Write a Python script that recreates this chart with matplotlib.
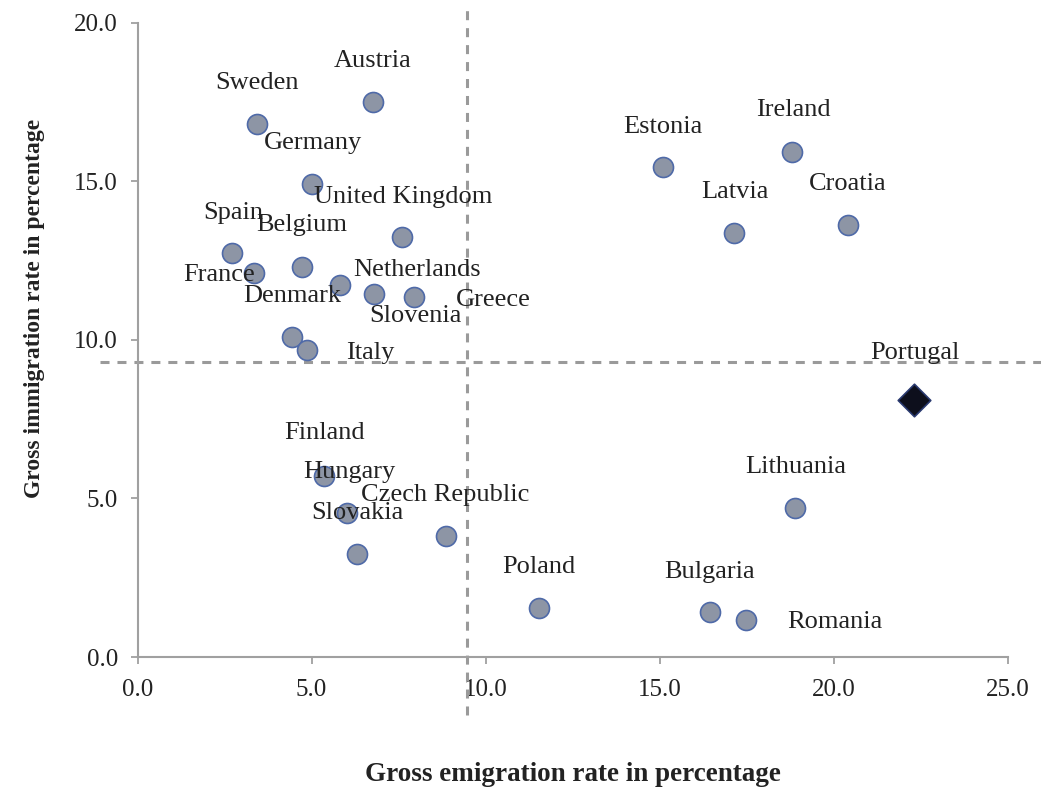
import matplotlib
matplotlib.use("Agg")
import matplotlib.pyplot as plt

countries = ["Austria", "Sweden", "Germany", "United Kingdom", "Spain", "France",
             "Belgium", "Netherlands", "Slovenia", "Greece", "Denmark", "Italy",
             "Estonia", "Ireland", "Latvia", "Croatia", "Lithuania", "Poland",
             "Bulgaria", "Romania", "Finland", "Hungary", "Slovakia", "Czech Republic"]
emigration = [6.76, 3.43, 5.01, 7.60, 2.71, 3.35,
              4.72, 5.82, 6.79, 7.94, 4.44, 4.87,
              15.09, 18.80, 17.13, 20.41, 18.88, 11.53,
              16.44, 17.47, 5.36, 6.02, 6.30, 8.86]
immigration = [17.51, 16.81, 14.92, 13.25, 12.74, 12.11,
               12.30, 11.74, 11.45, 11.36, 10.09, 9.68,
               15.46, 15.93, 13.38, 13.63, 4.70, 1.55,
               1.42, 1.17, 5.71, 4.54, 3.25, 3.82]

highlight = "Portugal"
highlight_emig = 22.30
highlight_immig = 8.11

avg_emigration = 9.46
avg_immigration = 9.31

xticks = [0, 5, 10, 15, 20, 25]
yticks = [0, 5, 10, 15, 20]

# label offsets in pixels (dx, dy)
offsets = {
    "Austria": (0, 41), "Sweden": (0, 41), "Germany": (1, 41),
    "United Kingdom": (1, 40), "Spain": (1, 40), "France": (-35, -2),
    "Belgium": (0, 42), "Netherlands": (77, 15), "Slovenia": (41, -22),
    "Greece": (79, -3), "Denmark": (0, 41), "Italy": (63, -3),
    "Estonia": (0, 40), "Ireland": (1, 42), "Latvia": (1, 41),
    "Croatia": (0, 41), "Lithuania": (1, 41), "Poland": (0, 41),
    "Bulgaria": (0, 40), "Romania": (89, -2), "Finland": (0, 43),
    "Hungary": (2, 41), "Slovakia": (0, 41), "Czech Republic": (-1, 41),
    "Portugal": (1, 47),
}

plt.rcParams['font.family'] = ['Liberation Serif', 'DejaVu Serif']

fig = plt.figure(figsize=(10.41, 7.93), dpi=100)
ax = fig.add_axes([0.1321, 0.1715, 0.8362, 0.7995])

ax.scatter(emigration, immigration, s=207, facecolor='#8d95a5',
           edgecolor='#4f6aa8', linewidth=1.2, zorder=3)
ax.scatter([highlight_emig], [highlight_immig], marker='D', s=275,
           facecolor='#0d0f1c', edgecolor='#2a3a70', linewidth=1.2, zorder=3)

for name, x, y in zip(countries, emigration, immigration):
    dx, dy = offsets[name]
    ax.annotate(name, (x, y), xytext=(dx, dy), textcoords='offset pixels',
                ha='center', va='center', fontsize=19, color='#222222', zorder=4)
dx, dy = offsets[highlight]
ax.annotate(highlight, (highlight_emig, highlight_immig), xytext=(dx, dy),
            textcoords='offset pixels', ha='center', va='center',
            fontsize=19, color='#222222', zorder=4)

ax.set_xlim(0, 25)
ax.set_ylim(0, 20)

dash_col = '#9a9a9a'
ax.plot([avg_emigration, avg_emigration], [-1.83, 20.57], color=dash_col,
        lw=2.2, dashes=(2.95, 2.6), clip_on=False, zorder=2)
ax.plot([-1.08, 25.95], [avg_immigration, avg_immigration], color=dash_col,
        lw=2.2, dashes=(2.95, 2.6), clip_on=False, zorder=2)

ax.set_xticks(xticks)
ax.set_yticks(yticks)
ax.set_xticklabels([f"{v:.1f}" for v in xticks])
ax.set_yticklabels([f"{v:.1f}" for v in yticks])

for side in ['top', 'right']:
    ax.spines[side].set_visible(False)
for side in ['left', 'bottom']:
    ax.spines[side].set_color('#a0a0a0')
    ax.spines[side].set_linewidth(1.5)

ax.tick_params(axis='x', direction='out', length=5, width=1.3, color='#a0a0a0',
               labelsize=18, labelcolor='#222222', pad=11)
ax.tick_params(axis='y', direction='out', length=5, width=1.3, color='#a0a0a0',
               labelsize=18, labelcolor='#222222', pad=9)

ax.set_xlabel("Gross emigration rate in percentage", fontsize=19.5,
              fontweight='bold', color='#222222', labelpad=44)
ax.set_ylabel("Gross immigration rate in percentage", fontsize=17,
              fontweight='bold', color='#222222')
ax.yaxis.set_label_coords(-0.106, 0.55)

fig.savefig("out.png", dpi=100)
